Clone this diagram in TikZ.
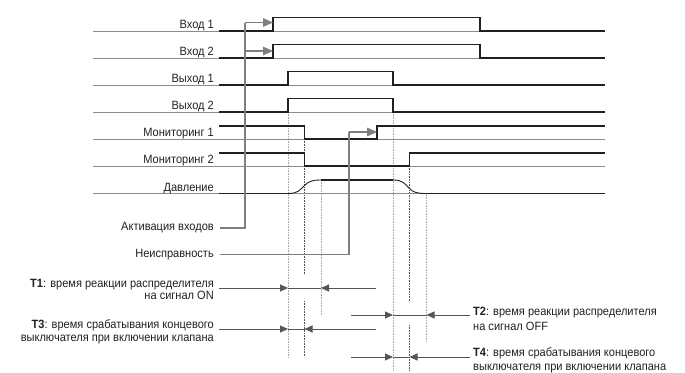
\documentclass[tikz,border=0pt]{standalone}
\usepackage{fontspec}
\setmainfont{Liberation Sans}[FakeStretch=0.92]
\usetikzlibrary{arrows.meta}
\definecolor{sig}{HTML}{231F20}
\definecolor{base}{HTML}{8C8C8C}
\definecolor{conn}{HTML}{7F7F7F}
\definecolor{dotl}{HTML}{A8A8A8}
\definecolor{dotd}{HTML}{505050}
\definecolor{tline}{HTML}{555555}
\definecolor{txt}{HTML}{231F20}
\tikzset{
  sigline/.style={draw=sig, line width=1.5pt},
  baseline/.style={draw=base, line width=0.9pt},
  curveline/.style={draw=sig, line width=0.9pt},
  connline/.style={draw=conn, line width=1.2pt},
  connarrow/.style={connline, -{Triangle[length=10pt,width=8.5pt]}},
  dotlight/.style={draw=dotl, line width=0.8pt, dash pattern=on 0.8pt off 0.8pt},
  dotdark/.style={draw=dotd, line width=0.7pt, dash pattern=on 0.8pt off 0.8pt},
  tmeas/.style={draw=tline, line width=0.9pt},
  tarrow/.style={tmeas, -{Triangle[length=8pt,width=7pt]}},
  lbl/.style={inner sep=0pt, text=txt, font=\fontsize{12}{14}\selectfont},
  rowlbl/.style={lbl, anchor=base east},
}
\begin{document}
\begin{tikzpicture}[x=1pt,y=-1pt]
\useasboundingbox (0,0) rectangle (685,372);
% dotted guide lines
\draw[dotlight] (288,112) -- (288,357);
\draw[dotdark] (304.5,139) -- (304.5,275);
\draw[dotdark] (304.5,301) -- (304.5,357);
\draw[dotlight] (321,180) -- (321,315);
\draw[dotlight] (393,112) -- (393,371);
\draw[dotdark] (409.5,166) -- (409.5,302);
\draw[dotdark] (409.5,325) -- (409.5,371);
\draw[dotlight] (426.5,193.5) -- (426.5,342);
% baselines
\foreach \y in {31,58,85,112,139,166,193.5} \draw[baseline] (93,\y) -- (605,\y);
% row labels
\node[rowlbl] (in1) at (214,28.5) {Вход 1};
\node[rowlbl] (in2) at (214,55.5) {Вход 2};
\node[rowlbl] (out1) at (214,82.5) {Выход 1};
\node[rowlbl] (out2) at (214,109.5) {Выход 2};
\node[rowlbl] (mon1) at (214,136.5) {Мониторинг 1};
\node[rowlbl] (mon2) at (214,163.5) {Мониторинг 2};
\node[rowlbl] (pres) at (214,191) {Давление};
% signals
\draw[sigline] (219,31) -- (273,31) -- (273,17.5) -- (480,17.5) -- (480,31) -- (605,31);
\draw[sigline] (219,58) -- (273,58) -- (273,44.5) -- (480,44.5) -- (480,58) -- (605,58);
\draw[sigline] (219,85) -- (288,85) -- (288,71.5) -- (393,71.5) -- (393,85) -- (605,85);
\draw[sigline] (219,112) -- (288,112) -- (288,98.5) -- (393,98.5) -- (393,112) -- (605,112);
\draw[sigline] (219,126) -- (304.5,126) -- (304.5,139) -- (377,139) -- (377,126) -- (605,126);
\draw[sigline] (219,153) -- (304.5,153) -- (304.5,166) -- (409.5,166) -- (409.5,153) -- (605,153);
\draw[sigline] (219,193.5) -- (288,193.5);
\draw[curveline] (288,193.5) .. controls (298,193.5) and (300,190) .. (304,186)
  .. controls (308,181.5) and (312,180) .. (321,180);
\draw[sigline] (321,180) -- (393,180);
\draw[curveline] (393,180) .. controls (403,180) and (405,184) .. (409,188)
  .. controls (413,192.5) and (417,193.5) .. (426.5,193.5);
\draw[sigline] (426.5,193.5) -- (605,193.5);
% activation connector
\node[lbl, anchor=east] (act) at (214,228) {Активация входов};
\coordinate (actc) at (245,228);
\coordinate (actb1) at (245,22.5);
\coordinate (actb2) at (245,51);
\coordinate (in1t) at (273,22.5);
\coordinate (in2t) at (273,51);
\draw[connline] ([xshift=6pt]act.east) -- (actc) -- (actb1);
\draw[connarrow] (actb1) -- (in1t);
\draw[connarrow] (actb2) -- (in2t);
% fault connector
\node[lbl, anchor=east] (fault) at (214,254.5) {Неисправность};
\coordinate (fc) at (349,254.5);
\coordinate (fb) at (349,132);
\coordinate (mon1t) at (377,132);
\draw[connline] ([xshift=6pt]fault.east) -- (fc) -- (fb);
\draw[connarrow] (fb) -- (mon1t);
% T1
\node[rowlbl] (t1a) at (214,287) {\textbf{T1}: время реакции распределителя};
\node[rowlbl] (t1b) at (214,299.5) {на сигнал ON};
\coordinate (t1s) at (219,288);
\coordinate (t1p) at (288,288);
\coordinate (t1q) at (321,288);
\coordinate (t1e) at (376,288);
\draw[tarrow] (t1s) -- (t1p);
\draw[tmeas] (t1p) -- (t1q);
\draw[tarrow] (t1e) -- (t1q);
% T3
\node[rowlbl] (t3a) at (214,328) {\textbf{T3}: время срабатывания концевого};
\node[rowlbl] (t3b) at (214,341.5) {выключателя при включении клапана};
\coordinate (t3s) at (219,329);
\coordinate (t3p) at (288,329);
\coordinate (t3q) at (304.5,329);
\coordinate (t3e) at (376,329);
\draw[tarrow] (t3s) -- (t3p);
\draw[tmeas] (t3p) -- (t3q);
\draw[tarrow] (t3e) -- (t3q);
% T2
\node[lbl, anchor=base west] (t2a) at (473,315.5) {\textbf{T2}: время реакции распределителя};
\node[lbl, anchor=base west] (t2b) at (473,330.5) {на сигнал OFF};
\coordinate (t2s) at (351,315);
\coordinate (t2p) at (393,315);
\coordinate (t2q) at (426.5,315);
\coordinate (t2e) at (470,315);
\draw[tarrow] (t2s) -- (t2p);
\draw[tmeas] (t2p) -- (t2q);
\draw[tarrow] (t2e) -- (t2q);
% T4
\node[lbl, anchor=base west] (t4a) at (473,356.5) {\textbf{T4}: время срабатывания концевого};
\node[lbl, anchor=base west] (t4b) at (473,370) {выключателя при включении клапана};
\coordinate (t4s) at (351,357);
\coordinate (t4p) at (393,357);
\coordinate (t4q) at (409.5,357);
\coordinate (t4e) at (470,357);
\draw[tarrow] (t4s) -- (t4p);
\draw[tmeas] (t4p) -- (t4q);
\draw[tarrow] (t4e) -- (t4q);
\end{tikzpicture}
\end{document}
